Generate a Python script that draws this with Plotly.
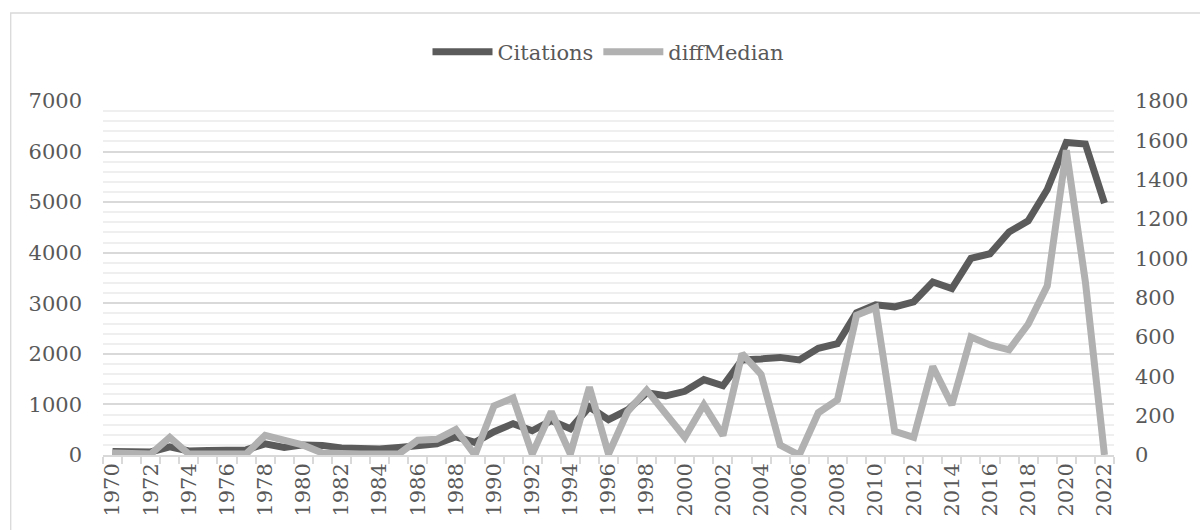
import plotly.graph_objects as go

# Years covered by the series
years = list(range(1970, 2023))

# Total citations per year (left axis)
citations = [
    70, 80, 60, 160, 80, 90, 90, 100, 220, 150,
    200, 190, 140, 130, 120, 150, 200, 220, 360, 250,
    460, 620, 480, 680, 520, 950, 700, 890, 1230, 1170,
    1260, 1490, 1370, 1880, 1900, 1930, 1880, 2110, 2200, 2810,
    2970, 2930, 3030, 3420, 3290, 3890, 3980, 4410, 4630, 5250,
    6180, 6150, 4980,
]

# Difference from the median (right axis)
diff_median = [
    10, 10, 5, 90, 5, 5, 5, 5, 100, 75,
    50, 10, 5, 5, 5, 5, 75, 80, 130, 0,
    250, 290, 5, 220, 5, 345, 5, 220, 330, 210,
    90, 255, 100, 515, 410, 50, 0, 215, 280, 710,
    750, 120, 90, 450, 255, 600, 560, 535, 665, 860,
    1550, 880, 0,
]

left_ticks = list(range(0, 7001, 1000))
right_ticks = list(range(0, 1801, 200))
year_labels = [y for y in years if y % 2 == 0]

DARK = "#5b5b5b"
LIGHT = "#b1b1b1"
TEXT = "#595959"
GRID = "#d9d9d9"
MINOR_GRID = "#efefef"
FONT = "DejaVu Serif"
FS = 21

W, H = 1200, 530
ML, MR, MT, MB = 103, 78, 101, 75
plot_w = W - ML - MR
plot_h = H - MT - MB

fig = go.Figure()
fig.add_trace(go.Scatter(
    x=years, y=citations, name="Citations", mode="lines",
    line=dict(color=DARK, width=7), yaxis="y",
))
fig.add_trace(go.Scatter(
    x=years, y=diff_median, name="diffMedian", mode="lines",
    line=dict(color=LIGHT, width=7), yaxis="y2",
))

# Outer chart frame (only its top and left edges fall inside the page)
def px_x(p):
    return (p - ML) / plot_w

def px_y(p):
    return (H - MB - p) / plot_h

fig.add_shape(
    type="rect", xref="paper", yref="paper",
    x0=px_x(10), x1=px_x(1210), y0=px_y(540), y1=px_y(13),
    line=dict(color=GRID, width=1.3), fillcolor="rgba(0,0,0,0)", layer="below",
)

fig.update_layout(
    width=W, height=H, autosize=False,
    margin=dict(l=ML, r=MR, t=MT, b=MB, pad=0),
    paper_bgcolor="white", plot_bgcolor="white",
    font=dict(family=FONT, size=FS, color=TEXT),
    showlegend=True,
    legend=dict(
        orientation="h", x=0.5, xanchor="center",
        y=1 + (MT - 52) / plot_h, yanchor="middle",
        font=dict(family=FONT, size=FS, color=TEXT),
        bgcolor="rgba(0,0,0,0)", itemwidth=60,
    ),
    xaxis=dict(
        range=[years[0] - 0.5, years[-1] + 0.5],
        tickmode="array", tickvals=year_labels, ticktext=[str(y) for y in year_labels],
        tickangle=-90, ticks="", showgrid=False, zeroline=False,
        showline=True, linecolor=GRID, linewidth=1.5,
        ticklabelstandoff=-2,
        minor=dict(tickmode="linear", tick0=years[0] - 0.5, dtick=1,
                   ticks="outside", ticklen=7, tickcolor=GRID, tickwidth=1.5,
                   showgrid=False),
        tickfont=dict(family=FONT, size=FS, color=TEXT),
    ),
    yaxis=dict(
        range=[0, 7000], tickmode="array", tickvals=left_ticks,
        showgrid=True, gridcolor=GRID, gridwidth=1.5, zeroline=False,
        minor=dict(dtick=200, showgrid=True, gridcolor=MINOR_GRID, gridwidth=1.5),
        ticks="", ticklabelstandoff=20,
        tickfont=dict(family=FONT, size=FS, color=TEXT),
    ),
    yaxis2=dict(
        range=[0, 1800], tickmode="array", tickvals=right_ticks,
        overlaying="y", side="right", showgrid=False, zeroline=False,
        ticks="", ticklabelstandoff=20,
        tickfont=dict(family=FONT, size=FS, color=TEXT),
    ),
)

fig.write_html("out.html")
